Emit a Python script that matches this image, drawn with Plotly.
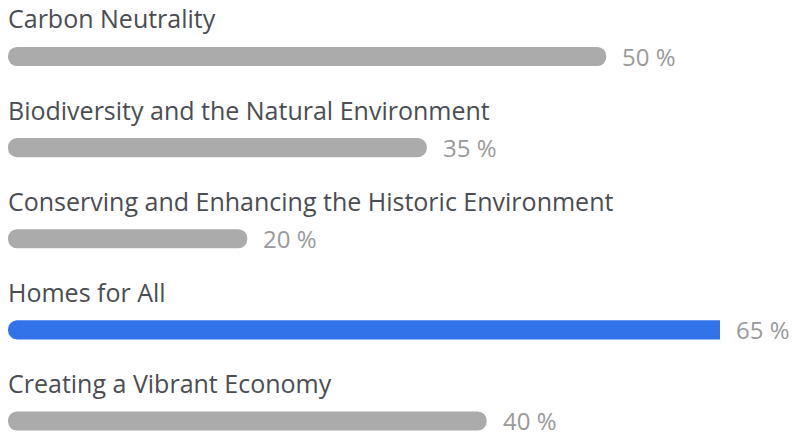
import plotly.graph_objects as go

categories = [
    "Carbon Neutrality",
    "Biodiversity and the Natural Environment",
    "Conserving and Enhancing the Historic Environment",
    "Homes for All",
    "Creating a Vibrant Economy",
]
percentages = [50, 35, 20, 65, 40]
highlight = "Homes for All"

GREY = "#ababab"
BLUE = "#3373ea"
LABEL_COLOR = "#4a4d52"
VALUE_COLOR = "#9a9a9a"
FONT = "Open Sans, Noto Sans, sans-serif"

# Track scale: 0-59.5 % spans the available width; longer bars run to the edge.
X_MAX = 59.5

colors = [BLUE if c == highlight else GREY for c in categories]

# An explicit base makes barcornerradius round both ends of each pill.
fig = go.Figure(
    go.Bar(
        x=percentages,
        base=[0] * len(percentages),
        y=categories,
        orientation="h",
        marker=dict(color=colors, line=dict(width=0)),
        width=0.21,
        hoverinfo="skip",
    )
)

annotations = []
for cat, val in zip(categories, percentages):
    # category caption above the bar
    annotations.append(dict(
        x=0, y=cat, xref="x", yref="y",
        text=cat, showarrow=False,
        xanchor="left", yanchor="middle",
        xshift=-2, yshift=38,
        font=dict(family=FONT, size=25, color=LABEL_COLOR),
    ))
    # percentage value after the bar end
    annotations.append(dict(
        x=min(val, X_MAX), y=cat, xref="x", yref="y",
        text=f"{val} %", showarrow=False,
        xanchor="left", yanchor="middle",
        xshift=14, yshift=0,
        font=dict(family=FONT, size=24, color=VALUE_COLOR),
    ))

fig.update_layout(
    width=795, height=436,
    margin=dict(l=8, r=75, t=0, b=0),
    paper_bgcolor="white", plot_bgcolor="white",
    barcornerradius="50%",
    showlegend=False,
    annotations=annotations,
    xaxis=dict(range=[0, X_MAX], visible=False, fixedrange=True),
    yaxis=dict(
        categoryorder="array", categoryarray=categories,
        range=[4.165, -0.62], visible=False, fixedrange=True,
    ),
)

fig.write_html("out.html", config={"displayModeBar": False})
